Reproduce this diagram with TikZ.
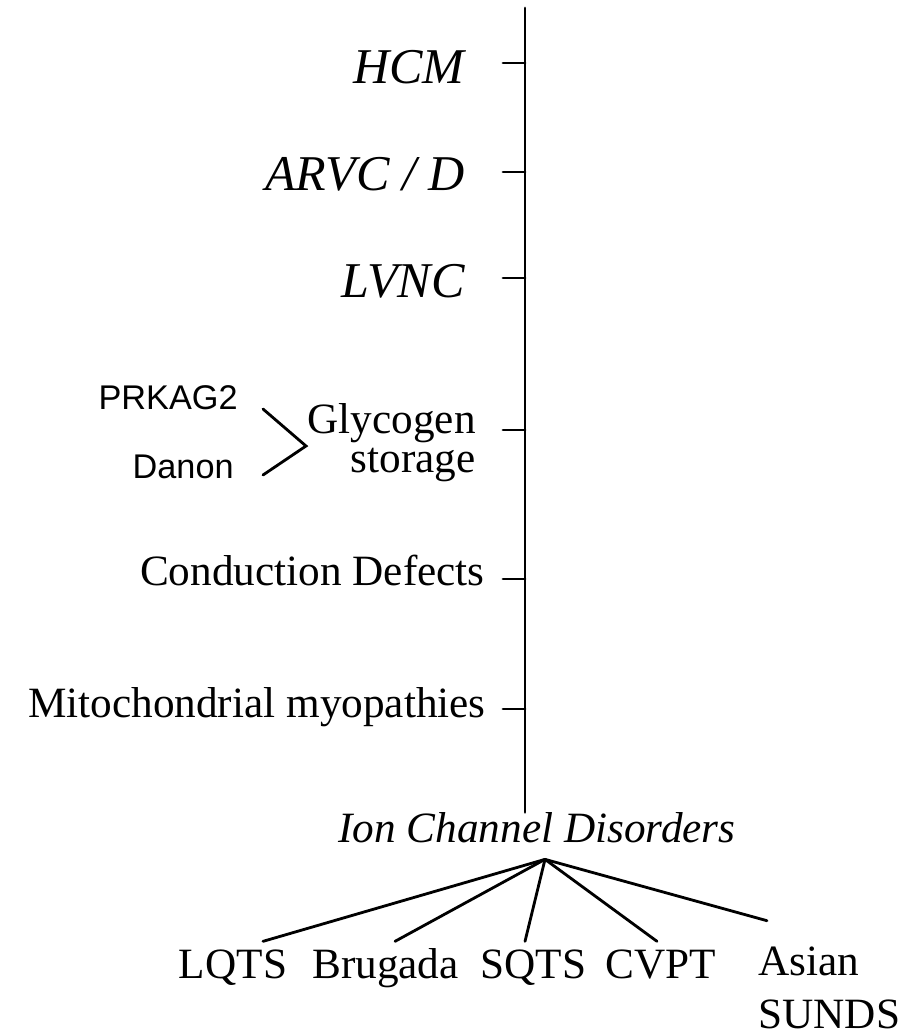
\documentclass[tikz,border=0pt]{standalone}
\usepackage{fontspec}
\setmainfont{Liberation Serif}
\setsansfont{Liberation Sans}
\begin{document}
\begin{tikzpicture}[
    disease/.style={anchor=base east, inner sep=0pt, font=\fontsize{28.5}{30}\selectfont\itshape},
    disorder/.style={anchor=base east, inner sep=0pt, font=\fontsize{24.6}{22.4}\selectfont},
    gene/.style={anchor=base east, inner sep=0pt, font=\sffamily\fontsize{19.5}{22}\selectfont},
    leaf/.style={anchor=base, inner xsep=0pt, inner ysep=0.48cm, text height=0.7em, text depth=0.22em, font=\fontsize{24.6}{30}\selectfont},
    stem/.style={line width=1.6pt, line cap=round},
]
    \useasboundingbox (0,0) rectangle (18.08,-20.7);

    % Axis
    \coordinate (top) at (10.5,-0.16);
    \node[anchor=base, inner xsep=0pt, inner ysep=0.34cm, text height=0.7em, text depth=0pt,
          font=\fontsize{24.6}{30}\selectfont\itshape] (ion) at (10.74,-16.84) {Ion Channel Disorders};
    \draw[stem] (top) -- (top |- ion.north);

    % Cardiomyopathies
    \node[disease] (hcm) at (9.3,-1.66) {HCM};
    \node[disease] (arvc) at (9.3,-3.8) {ARVC / D};
    \node[disease] (lvnc) at (9.3,-5.94) {LVNC};
    \node[disorder, align=right, anchor=north east] (glyc) at (9.52,-8.06) {Glycogen\\storage};
    \node[disorder] (cond) at (9.7,-11.7) {Conduction Defects};
    \node[disorder] (mito) at (9.72,-14.34) {Mitochondrial myopathies};

    % Ticks
    \coordinate (t1) at (10.06,-1.26);
    \coordinate (t2) at (10.06,-3.44);
    \coordinate (t3) at (10.06,-5.56);
    \coordinate (t4) at (10.06,-8.6);
    \coordinate (t5) at (10.06,-11.58);
    \coordinate (t6) at (10.06,-14.18);
    \foreach \t in {t1,t2,t3,t4,t5,t6}
        \draw[stem] (\t) -- (\t -| top);

    % Glycogen storage genes
    \node[gene] (prk) at (4.76,-8.18) {PRKAG2};
    \node[gene] (danon) at (4.68,-9.56) {Danon};
    \coordinate (vtx) at (6.12,-8.92);
    \draw[stem] ([xshift=0.5cm]prk.base east) -- (vtx) -- ([xshift=0.58cm,yshift=0.06cm]danon.base east);

    % Ion channel disorders
    \coordinate (apex) at ([xshift=0.16cm]ion.south);
    \node[leaf] (lqts) at (4.66,-19.56) {LQTS};
    \node[leaf] (brug) at (7.71,-19.56) {Brugada};
    \node[leaf] (sqts) at (10.67,-19.56) {SQTS};
    \node[leaf] (cvpt) at (13.22,-19.56) {CVPT};
    \node[leaf, anchor=base west, align=left, text height=47.2pt] (asian) at (15.16,-20.56) {Asian\\SUNDS};

    \draw[stem] (apex) -- ([xshift=0.6cm]lqts.north);
    \draw[stem] (apex) -- ([xshift=0.19cm]brug.north);
    \draw[stem] (apex) -- ([xshift=-0.17cm]sqts.north);
    \draw[stem] (apex) -- ([xshift=-0.08cm]cvpt.north);
    \draw[stem] (apex) -- ([xshift=0.18cm]asian.north west);
\end{tikzpicture}
\end{document}
